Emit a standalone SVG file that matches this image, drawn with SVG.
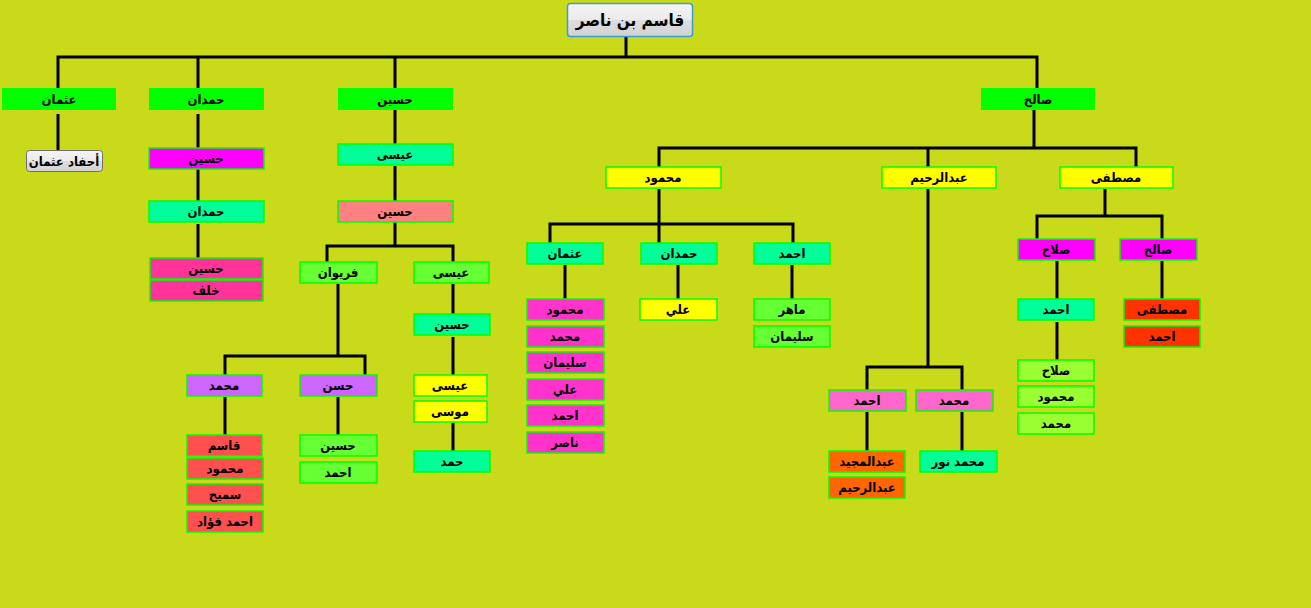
<svg xmlns="http://www.w3.org/2000/svg" width="1311" height="608" viewBox="0 0 1311 608">
<defs>
<linearGradient id="btn" x1="0" y1="0" x2="0" y2="1">
<stop offset="0" stop-color="#F4F4F4"/><stop offset="0.5" stop-color="#EBEBEB"/><stop offset="0.5" stop-color="#DEDEDE"/><stop offset="1" stop-color="#D2D2D2"/>
</linearGradient>
<style>
.b rect{stroke:#00FF00;stroke-width:1.5}
text{font-family:"DejaVu Sans Condensed","DejaVu Sans",sans-serif;font-weight:bold;font-size:13px;fill:#000;text-anchor:middle}
.g0{fill:#00FF00}.te{fill:#00FF99}.mg{fill:#FF00FF}.p1{fill:#FF3399}.p2{fill:#FF33CC}.p3{fill:#FF66CC}
.sa{fill:#FF8080}.lg{fill:#66FF33}.l2{fill:#99FF33}.pu{fill:#CC66FF}.r1{fill:#FF5050}.r2{fill:#FF3300}
.or{fill:#FF6600}.ye{fill:#FFFF00}
.c path{fill:none;stroke:#000;stroke-width:3}
</style>
</defs>
<rect width="1311" height="608" fill="#C8DA1A"/>
<g class="c" id="connectors">
<path d="M626,37V57"/>
<path d="M58,88V57H1037V88"/>
<path d="M198,57V88M395,57V88"/>
<path d="M58,114V150"/>
<path d="M198,114V148M198,169V201M198,224V258"/>
<path d="M395,110V144M395,166V201M395,222V246M327,262V246H453V262"/>
<path d="M338,284V356M225,375V356H365V375"/>
<path d="M225,397V435M338,397V435"/>
<path d="M453,284V314M453,337V375M453,423V451"/>
<path d="M1034,110V148M659,167V148H1136V167M928,148V167"/>
<path d="M659,189V243M550,243V224H793V243"/>
<path d="M565,265V299M678,265V299M792,265V299"/>
<path d="M928,189V367M867,390V367H962V390"/>
<path d="M867,412V451M962,412V451"/>
<path d="M1105,189V216M1037,239V216H1162V239"/>
<path d="M1057,261V299M1057,322V360M1162,261V299"/>
</g>
<g id="root"><rect x="567.5" y="3.5" width="125" height="33" rx="3" fill="url(#btn)" stroke="#3C9BDB" stroke-width="1.5"/><text x="630" y="26" style="font-size:17px">قاسم بن ناصر</text></g>
<g id="n1"><rect class="g0" x="2" y="88" width="114" height="22"/><text x="59" y="104">عثمان</text></g>
<g id="n2"><rect class="g0" x="149" y="88" width="115" height="22"/><text x="206" y="104">حمدان</text></g>
<g id="n3"><rect class="g0" x="338" y="88" width="115" height="22"/><text x="395" y="104">حسين</text></g>
<g id="n4"><rect class="g0" x="981" y="88" width="114" height="22"/><text x="1038" y="104">صالح</text></g>
<g id="n1a"><rect x="26.5" y="150.5" width="76" height="21" rx="3" fill="url(#btn)" stroke="#707070" stroke-width="1"/><text x="64" y="166">أحفاد عثمان</text></g>
<g class="b">
<g id="n2a"><rect class="mg" x="149" y="148" width="115" height="21"/><text x="206" y="163">حسين</text></g>
<g id="n2b"><rect class="te" x="149" y="201" width="115" height="21"/><text x="206" y="216">حمدان</text></g>
<g id="n2c"><rect class="p1" x="150" y="258" width="113" height="21"/><text x="206" y="273">حسين</text></g>
<g id="n2d"><rect class="p1" x="150" y="280" width="113" height="21"/><text x="206" y="295">خلف</text></g>
<g id="n3a"><rect class="te" x="338" y="144" width="115" height="21"/><text x="395" y="159">عيسى</text></g>
<g id="n3b"><rect class="sa" x="338" y="201" width="115" height="21"/><text x="395" y="216">حسين</text></g>
<g id="n3c"><rect class="lg" x="300" y="262" width="77" height="21"/><text x="338" y="277">فريوان</text></g>
<g id="n3d"><rect class="lg" x="414" y="262" width="75" height="21"/><text x="451" y="277">عيسى</text></g>
<g id="n3c1"><rect class="pu" x="187" y="375" width="75" height="21"/><text x="224" y="390">محمد</text></g>
<g id="n3c2"><rect class="pu" x="300" y="375" width="77" height="21"/><text x="338" y="390">حسن</text></g>
<g id="n3c1a"><rect class="r1" x="187" y="435" width="75" height="21"/><text x="224" y="450">قاسم</text></g>
<g id="n3c1b"><rect class="r1" x="187" y="458" width="76" height="21"/><text x="225" y="473">محمود</text></g>
<g id="n3c1c"><rect class="r1" x="187" y="484" width="76" height="21"/><text x="225" y="499">سميح</text></g>
<g id="n3c1d"><rect class="r1" x="187" y="511" width="76" height="21"/><text x="225" y="526">احمد فؤاد</text></g>
<g id="n3c2a"><rect class="lg" x="300" y="435" width="77" height="21"/><text x="338" y="450">حسين</text></g>
<g id="n3c2b"><rect class="lg" x="300" y="462" width="77" height="21"/><text x="338" y="477">احمد</text></g>
<g id="n3d1"><rect class="te" x="414" y="314" width="76" height="21"/><text x="452" y="329">حسين</text></g>
<g id="n3d2"><rect class="ye" x="414" y="375" width="73" height="21"/><text x="450" y="390">عيسى</text></g>
<g id="n3d3"><rect class="ye" x="414" y="401" width="73" height="21"/><text x="450" y="416">موسى</text></g>
<g id="n3d4"><rect class="te" x="414" y="451" width="76" height="21"/><text x="452" y="466">حمد</text></g>
<g id="n4a"><rect class="ye" x="606" y="167" width="115" height="21"/><text x="663" y="182">محمود</text></g>
<g id="n4b"><rect class="ye" x="882" y="167" width="114" height="21"/><text x="939" y="182">عبدالرحيم</text></g>
<g id="n4c"><rect class="ye" x="1060" y="167" width="113" height="21"/><text x="1116" y="182">مصطفى</text></g>
<g id="n4a1"><rect class="te" x="527" y="243" width="76" height="21"/><text x="565" y="258">عثمان</text></g>
<g id="n4a2"><rect class="te" x="641" y="243" width="76" height="21"/><text x="679" y="258">حمدان</text></g>
<g id="n4a3"><rect class="te" x="754" y="243" width="76" height="21"/><text x="792" y="258">احمد</text></g>
<g id="n4a1a"><rect class="p2" x="527" y="299" width="77" height="21"/><text x="565" y="314">محمود</text></g>
<g id="n4a1b"><rect class="p2" x="527" y="326" width="77" height="21"/><text x="565" y="341">محمد</text></g>
<g id="n4a1c"><rect class="p2" x="527" y="352" width="77" height="21"/><text x="565" y="367">سليمان</text></g>
<g id="n4a1d"><rect class="p2" x="527" y="379" width="77" height="21"/><text x="565" y="394">علي</text></g>
<g id="n4a1e"><rect class="p2" x="527" y="405" width="77" height="21"/><text x="565" y="420">احمد</text></g>
<g id="n4a1f"><rect class="p2" x="527" y="432" width="77" height="21"/><text x="565" y="447">ناصر</text></g>
<g id="n4a2a"><rect class="ye" x="640" y="299" width="77" height="21"/><text x="678" y="314">علي</text></g>
<g id="n4a3a"><rect class="lg" x="754" y="299" width="76" height="21"/><text x="792" y="314">ماهر</text></g>
<g id="n4a3b"><rect class="lg" x="754" y="326" width="76" height="21"/><text x="792" y="341">سليمان</text></g>
<g id="n4b1"><rect class="p3" x="829" y="390" width="77" height="21"/><text x="867" y="405">احمد</text></g>
<g id="n4b2"><rect class="p3" x="916" y="390" width="77" height="21"/><text x="954" y="405">محمد</text></g>
<g id="n4b1a"><rect class="or" x="829" y="451" width="76" height="21"/><text x="867" y="466">عبدالمجيد</text></g>
<g id="n4b1b"><rect class="or" x="829" y="477" width="76" height="21"/><text x="867" y="492">عبدالرحيم</text></g>
<g id="n4b2a"><rect class="te" x="920" y="451" width="77" height="21"/><text x="958" y="466">محمد نور</text></g>
<g id="n4c1"><rect class="mg" x="1018" y="239" width="77" height="21"/><text x="1056" y="254">صلاح</text></g>
<g id="n4c2"><rect class="mg" x="1120" y="239" width="77" height="21"/><text x="1158" y="254">صالح</text></g>
<g id="n4c1a"><rect class="te" x="1018" y="299" width="76" height="21"/><text x="1056" y="314">احمد</text></g>
<g id="n4c1b"><rect class="l2" x="1018" y="360" width="76" height="21"/><text x="1056" y="375">صلاح</text></g>
<g id="n4c1c"><rect class="l2" x="1018" y="386" width="76" height="21"/><text x="1056" y="401">محمود</text></g>
<g id="n4c1d"><rect class="l2" x="1018" y="413" width="76" height="21"/><text x="1056" y="428">محمد</text></g>
<g id="n4c2a"><rect class="r2" x="1124" y="299" width="76" height="21"/><text x="1162" y="314">مصطفى</text></g>
<g id="n4c2b"><rect class="r2" x="1124" y="326" width="76" height="21"/><text x="1162" y="341">احمد</text></g>
</g>
</svg>
